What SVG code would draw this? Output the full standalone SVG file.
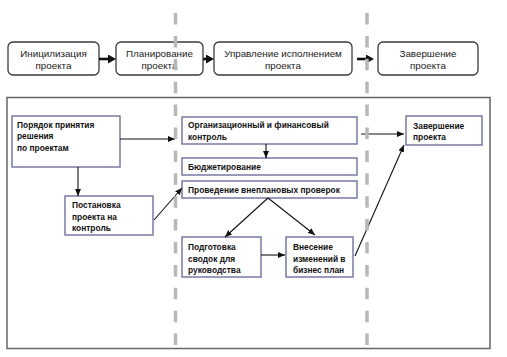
<svg xmlns="http://www.w3.org/2000/svg" width="507" height="357" viewBox="0 0 507 357">
<style>
.top{fill:#fff;stroke:#3a3a3a;stroke-width:1.3}
.tt{font-family:"Liberation Sans",Arial,sans-serif;font-size:9.8px;fill:#1a1a1a;text-anchor:middle}
.bx{fill:#fff;stroke:#6f6f9f;stroke-width:1.4}
.bt{font-family:"Liberation Sans",Arial,sans-serif;font-size:8.4px;font-weight:bold;fill:#111}
.thin{stroke:#111;stroke-width:1.1;fill:none;marker-end:url(#ah)}
.thick{stroke:#111;stroke-width:2.6;fill:none;marker-end:url(#ahb)}
.dash{stroke:#b8b8b8;stroke-width:3.5;stroke-dasharray:11.5 11.4}
</style>
<defs>
<marker id="ah" markerUnits="userSpaceOnUse" markerWidth="7" markerHeight="6" refX="7" refY="3" orient="auto"><path d="M0,0 L7,3 L0,6 z" fill="#111"/></marker>
<marker id="ahb" markerUnits="userSpaceOnUse" markerWidth="8" markerHeight="9" refX="2" refY="4.5" orient="auto"><path d="M0,0 L8,4.5 L0,9 z" fill="#111"/></marker>
</defs>
<rect x="7" y="97.5" width="483" height="251" fill="#fff" stroke="#666" stroke-width="1.5"/>
<g id="top-init"><rect class="top" x="8" y="42" width="91" height="33" rx="5"/><text class="tt" x="53.5" y="57">Иницилизация</text><text class="tt" x="53.5" y="69">проекта</text></g>
<g id="top-plan"><rect class="top" x="116" y="42" width="87" height="33" rx="5"/><text class="tt" x="159.5" y="57">Планирование</text><text class="tt" x="159.5" y="69">проекта</text></g>
<g id="top-exec"><rect class="top" x="214" y="42" width="138" height="33" rx="5"/><text class="tt" x="283" y="57">Управление исполнением</text><text class="tt" x="283" y="69">проекта</text></g>
<g id="top-end"><rect class="top" x="378" y="42" width="100" height="33" rx="5"/><text class="tt" x="428" y="57">Завершение</text><text class="tt" x="428" y="69">проекта</text></g>
<g id="n-order"><rect class="bx" x="12" y="116" width="108" height="51"/><text class="bt" x="17" y="127.5">Порядок принятия</text><text class="bt" x="17" y="139">решения</text><text class="bt" x="17" y="150.5">по проектам</text></g>
<g id="n-control"><rect class="bx" x="65" y="196" width="88" height="39"/><text class="bt" x="72" y="208">Постановка</text><text class="bt" x="72" y="219.5">проекта на</text><text class="bt" x="72" y="231">контроль</text></g>
<g id="n-org"><rect class="bx" x="182" y="117" width="175" height="27"/><text class="bt" x="188" y="128">Организационный и финансовый</text><text class="bt" x="188" y="139.5">контроль</text></g>
<g id="n-budget"><rect class="bx" x="182" y="158" width="175" height="17"/><text class="bt" x="188" y="169.5">Бюджетирование</text></g>
<g id="n-audit"><rect class="bx" x="182" y="181" width="175" height="17"/><text class="bt" x="188" y="192.5">Проведение внеплановых проверок</text></g>
<g id="n-report"><rect class="bx" x="182" y="237" width="79" height="40"/><text class="bt" x="188" y="250">Подготовка</text><text class="bt" x="188" y="261.5">сводок для</text><text class="bt" x="188" y="273">руководства</text></g>
<g id="n-change"><rect class="bx" x="286" y="237" width="67" height="40"/><text class="bt" x="293" y="250">Внесение</text><text class="bt" x="293" y="261.5">изменений в</text><text class="bt" x="293" y="273">бизнес план</text></g>
<g id="n-finish"><rect class="bx" x="406" y="116" width="76" height="29"/><text class="bt" x="413" y="128.5">Завершение</text><text class="bt" x="413" y="140">проекта</text></g>
<g id="connectors">
<line class="thick" x1="99" y1="59" x2="110" y2="59"/>
<line class="thick" x1="203" y1="59" x2="208" y2="59"/>
<line class="thick" x1="357" y1="59" x2="368" y2="59"/>
<line class="thin" x1="78" y1="167" x2="78" y2="196"/>
<line class="thin" x1="266" y1="144" x2="266" y2="158"/>
<line class="thin" x1="120" y1="139" x2="175" y2="139"/>
<line class="thin" x1="154" y1="220" x2="182" y2="188"/>
<line class="thin" x1="268" y1="198" x2="225" y2="237"/>
<line class="thin" x1="268" y1="198" x2="315" y2="235"/>
<line class="thin" x1="261" y1="255" x2="285" y2="255"/>
<line class="thin" x1="355" y1="256" x2="404" y2="145"/>
<line class="thin" x1="361" y1="134" x2="404" y2="134"/>
</g>
<g id="phase-dividers">
<line class="dash" x1="175.5" y1="13" x2="175.5" y2="346"/>
<line class="dash" x1="367" y1="13" x2="367" y2="346"/>
</g>
</svg>
